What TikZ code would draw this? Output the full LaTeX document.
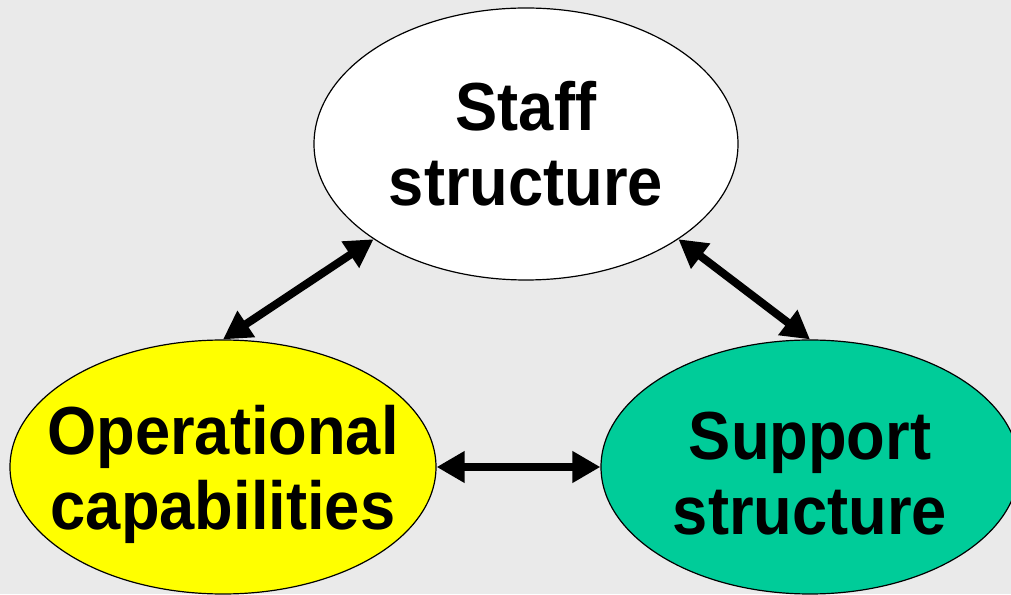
\documentclass[tikz,border=0pt]{standalone}
\usepackage{fontspec}
\setmainfont{Liberation Sans}[FakeStretch=0.93]
\usetikzlibrary{arrows.meta,shapes.geometric}
\definecolor{bggray}{HTML}{EAEAEA}
\definecolor{opsyellow}{HTML}{FFFF00}
\definecolor{suppgreen}{HTML}{00CC99}
\tikzset{
  blob/.style={ellipse, draw, line width=1.2pt, inner sep=0pt},
  blobtext/.style={font=\fontsize{68}{75}\selectfont\bfseries, align=center, inner sep=0pt}
}
\begin{document}
\begin{tikzpicture}[x=1pt, y=1pt]

\fill [bggray] (0,0) rectangle (1011,594);
\useasboundingbox (0,0) rectangle (1011,594);

\node (staff) [blob, fill=white, minimum width=424pt, minimum height=272pt] at (526,450) {};
\node (ops) [blob, fill=opsyellow, minimum width=426pt, minimum height=254pt] at (223,127) {};
\node (supp) [blob, fill=suppgreen, minimum width=418pt, minimum height=254pt] at (810,127) {};

\node (stafftxt) [blobtext] at (staff.center) {Staff\\structure};
\node (opstxt) [blobtext] at ([yshift=-7pt]ops.center) {Operational\\capabilities};
\node (supptxt) [blobtext] at ([yshift=-7pt]supp.center) {Support\\structure};

\begin{scope}[line width=8pt, {Triangle[length=28pt,width=30pt]}-{Triangle[length=28pt,width=30pt]}]
  \draw (staff.212) -- (ops.north);
  \draw (staff.-32) -- (supp.north);
  \draw (ops.east) -- (supp.west);
\end{scope}
\end{tikzpicture}
\end{document}
